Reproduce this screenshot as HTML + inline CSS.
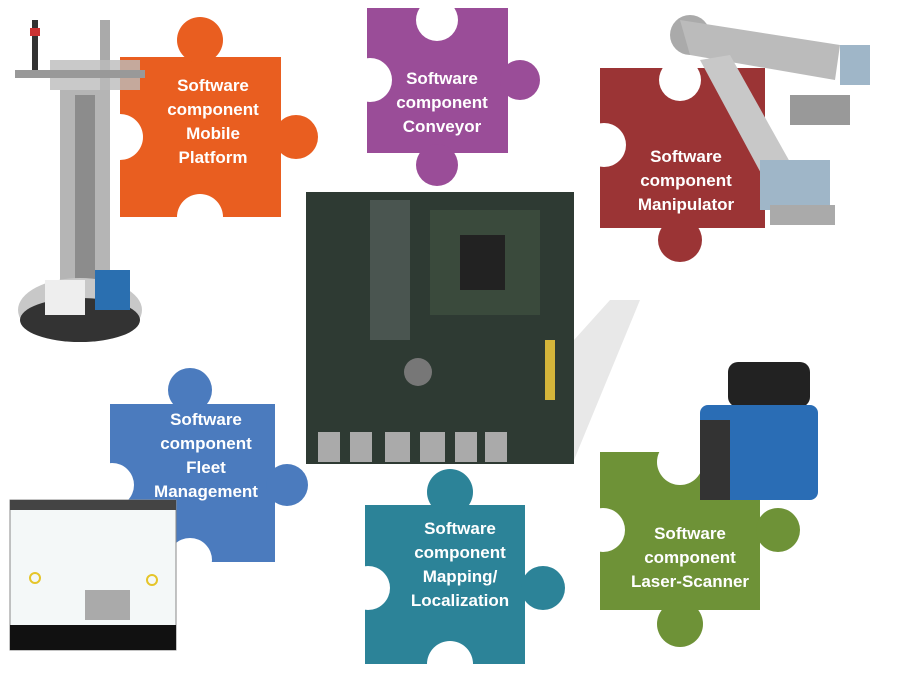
<!DOCTYPE html>
<html><head><style>
html,body{margin:0;padding:0;background:#fff;}
svg{display:block;}
text{font-family:"Liberation Sans",sans-serif;font-weight:bold;font-size:17px;fill:#fff;text-anchor:middle;}
</style></head><body>
<svg width="900" height="675" viewBox="0 0 900 675" xmlns="http://www.w3.org/2000/svg">
<rect width="900" height="675" fill="#fff"/>
<!-- Orange -->
<g fill="#E95E20">
<rect x="120" y="57" width="161" height="160"/>
<circle cx="200" cy="40" r="23"/><circle cx="296" cy="137" r="22"/>
</g>
<g fill="#fff"><circle cx="200" cy="217" r="23"/><circle cx="120" cy="137" r="23"/></g>
<!-- Purple -->
<g fill="#9A4D98">
<rect x="367" y="8" width="141" height="145"/>
<circle cx="520" cy="80" r="20"/><circle cx="437" cy="165" r="21"/>
</g>
<g fill="#fff"><circle cx="437" cy="20" r="21"/><circle cx="370" cy="80" r="22"/></g>
<!-- Maroon -->
<g fill="#9B3435">
<rect x="600" y="68" width="165" height="160"/>
<circle cx="680" cy="240" r="22"/>
</g>
<g fill="#fff"><circle cx="680" cy="80" r="21"/><circle cx="604" cy="145" r="22"/></g>
<!-- Blue -->
<g fill="#4B7BBE">
<rect x="110" y="404" width="165" height="158"/>
<circle cx="190" cy="390" r="22"/><circle cx="287" cy="485" r="21"/>
</g>
<g fill="#fff"><circle cx="190" cy="560" r="22"/><circle cx="112" cy="485" r="22"/></g>
<!-- Teal -->
<g fill="#2C8398">
<rect x="365" y="505" width="160" height="159"/>
<circle cx="450" cy="492" r="23"/><circle cx="543" cy="588" r="22"/>
</g>
<g fill="#fff"><circle cx="450" cy="664" r="23"/><circle cx="368" cy="588" r="22"/></g>
<!-- Green -->
<g fill="#6E9237">
<rect x="600" y="452" width="160" height="158"/>
<circle cx="778" cy="530" r="22"/><circle cx="680" cy="624" r="23"/>
</g>
<g fill="#fff"><circle cx="680" cy="462" r="23"/><circle cx="603" cy="530" r="22"/></g>

<!-- Mobile robot -->
<g>
<rect x="32" y="20" width="6" height="50" fill="#333"/>
<rect x="30" y="28" width="10" height="8" fill="#c33"/>
<rect x="100" y="20" width="10" height="160" fill="#aaa"/>
<rect x="50" y="60" width="90" height="30" fill="#bbb" opacity="0.8"/>
<rect x="15" y="70" width="130" height="8" fill="#999"/>
<rect x="60" y="90" width="50" height="200" fill="#b5b5b5"/>
<rect x="75" y="95" width="20" height="200" fill="#8c8c8c"/>
<ellipse cx="80" cy="310" rx="62" ry="32" fill="#c8c8c8"/>
<ellipse cx="80" cy="320" rx="60" ry="22" fill="#333"/>
<rect x="95" y="270" width="35" height="40" fill="#2a6fb0"/>
<rect x="45" y="280" width="40" height="35" fill="#eee"/>
</g>
<!-- Motherboard -->
<rect x="306" y="192" width="268" height="272" fill="#2e3a33"/>
<rect x="370" y="200" width="40" height="140" fill="#4a5550"/>
<rect x="430" y="210" width="110" height="105" fill="#3a4a3c"/>
<rect x="460" y="235" width="45" height="55" fill="#222"/>
<circle cx="418" cy="372" r="14" fill="#777"/>
<g fill="#aaa"><rect x="318" y="432" width="22" height="30"/><rect x="350" y="432" width="22" height="30"/><rect x="385" y="432" width="25" height="30"/><rect x="420" y="432" width="25" height="30"/><rect x="455" y="432" width="22" height="30"/><rect x="485" y="432" width="22" height="30"/></g>
<rect x="545" y="340" width="10" height="60" fill="#d4b43a"/>
<polygon points="574,340 610,300 640,300 574,460" fill="#e8e8e8"/>
<!-- Manipulator arm -->
<g>
<circle cx="690" cy="35" r="20" fill="#aaa"/>
<polygon points="680,20 840,45 835,80 690,55" fill="#bbb"/>
<polygon points="700,60 730,55 800,180 770,190" fill="#c8c8c8"/>
<rect x="840" y="45" width="30" height="40" fill="#9fb6c8"/>
<rect x="790" y="95" width="60" height="30" fill="#999"/>
<rect x="760" y="160" width="70" height="50" fill="#9fb6c8"/>
<rect x="770" y="205" width="65" height="20" fill="#aaa"/>
</g>
<!-- Laser scanner -->
<rect x="728" y="362" width="82" height="45" rx="10" fill="#222"/>
<rect x="700" y="405" width="118" height="95" rx="8" fill="#2a6db5"/>
<rect x="700" y="420" width="30" height="80" fill="#333"/>
<!-- Fleet screenshot -->
<rect x="10" y="500" width="166" height="150" fill="#f4f8f8" stroke="#888"/>
<rect x="10" y="500" width="166" height="10" fill="#444"/>
<rect x="10" y="625" width="166" height="25" fill="#111"/>
<rect x="85" y="590" width="45" height="30" fill="#aaa"/>
<circle cx="35" cy="578" r="5" fill="none" stroke="#e5c52a" stroke-width="2"/>
<circle cx="152" cy="580" r="5" fill="none" stroke="#e5c52a" stroke-width="2"/>

<!-- Labels -->
<text x="213" y="91">Software</text><text x="213" y="115">component</text><text x="213" y="139">Mobile</text><text x="213" y="163">Platform</text>
<text x="442" y="84">Software</text><text x="442" y="108">component</text><text x="442" y="132">Conveyor</text>
<text x="686" y="162">Software</text><text x="686" y="186">component</text><text x="686" y="210">Manipulator</text>
<text x="206" y="425">Software</text><text x="206" y="449">component</text><text x="206" y="473">Fleet</text><text x="206" y="497">Management</text>
<text x="460" y="534">Software</text><text x="460" y="558">component</text><text x="460" y="582">Mapping/</text><text x="460" y="606">Localization</text>
<text x="690" y="539">Software</text><text x="690" y="563">component</text><text x="690" y="587">Laser-Scanner</text>
</svg>
</body></html>
